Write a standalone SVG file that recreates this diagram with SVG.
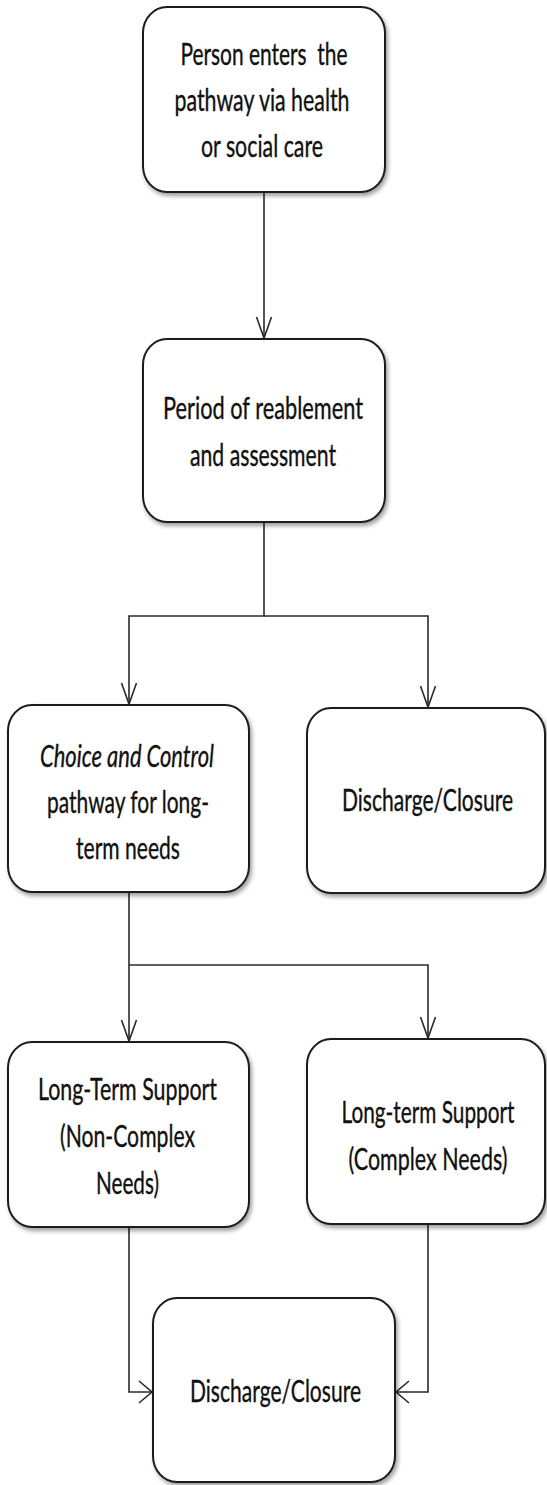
<svg xmlns="http://www.w3.org/2000/svg" width="547" height="1485" viewBox="0 0 547 1485">
<style>
.box{fill:#fff;stroke:#1a1a1a;stroke-width:2;filter:url(#sh)}
.t{font-family:Lato,"Open Sans","Liberation Sans",sans-serif;font-size:30px;fill:#111;stroke:#111;stroke-width:0.35;text-anchor:middle}
.it{font-style:italic}
.c{fill:none;stroke:#2a2a2a;stroke-width:1.6}
</style>
<defs>
<filter id="sh" x="-10%" y="-10%" width="125%" height="125%">
<feDropShadow dx="2" dy="3" stdDeviation="2.2" flood-color="#000" flood-opacity="0.38"/>
</filter>
<marker id="arrV" markerUnits="userSpaceOnUse" orient="auto" overflow="visible" markerWidth="1" markerHeight="1" refX="0" refY="0">
<path d="M-21,-7.5 L0,0 L-21,7.5" fill="none" stroke="#2a2a2a" stroke-width="1.6"/>
</marker>
<marker id="arrH" markerUnits="userSpaceOnUse" orient="auto" overflow="visible" markerWidth="1" markerHeight="1" refX="0" refY="0">
<path d="M-13,-11 L0,0 L-13,11" fill="none" stroke="#2a2a2a" stroke-width="1.6"/>
</marker>
</defs>
<g id="connectors">
<path class="c" d="M264,192 V338" marker-end="url(#arrV)"/>
<path class="c" d="M264,522 V616 H129 V704" marker-end="url(#arrV)"/>
<path class="c" d="M264,616 H428 V707" marker-end="url(#arrV)"/>
<path class="c" d="M129,892 V1041" marker-end="url(#arrV)"/>
<path class="c" d="M129,965 H428 V1038" marker-end="url(#arrV)"/>
<path class="c" d="M129,1227 V1392 H152" marker-end="url(#arrH)"/>
<path class="c" d="M428,1224 V1392 H396" marker-end="url(#arrH)"/>
</g>
<g id="n1">
<rect class="box" x="143" y="7" width="242" height="185" rx="24" ry="26"/>
<text class="t" transform="translate(264,65) scale(0.74,1)" textLength="225.7" lengthAdjust="spacingAndGlyphs" xml:space="preserve">Person enters  the</text>
<text class="t" transform="translate(262,111) scale(0.74,1)" textLength="236.5" lengthAdjust="spacingAndGlyphs">pathway via health</text>
<text class="t" transform="translate(262,157) scale(0.74,1)" textLength="164.9" lengthAdjust="spacingAndGlyphs">or social care</text>
</g>
<g id="n2">
<rect class="box" x="143" y="339" width="242" height="183" rx="24" ry="26"/>
<text class="t" transform="translate(263,419) scale(0.74,1)" textLength="270.3" lengthAdjust="spacingAndGlyphs">Period of reablement</text>
<text class="t" transform="translate(263,466) scale(0.74,1)" textLength="197.3" lengthAdjust="spacingAndGlyphs">and assessment</text>
</g>
<g id="n3">
<rect class="box" x="8" y="705" width="241" height="187" rx="24" ry="26"/>
<text class="t it" transform="translate(127,767) scale(0.74,1)" textLength="235.1" lengthAdjust="spacingAndGlyphs">Choice and Control</text>
<text class="t" transform="translate(128,813) scale(0.74,1)" textLength="218.9" lengthAdjust="spacingAndGlyphs">pathway for long-</text>
<text class="t" transform="translate(128,859) scale(0.74,1)" textLength="140.5" lengthAdjust="spacingAndGlyphs">term needs</text>
</g>
<g id="n4">
<rect class="box" x="307" y="708" width="238" height="185" rx="24" ry="26"/>
<text class="t" transform="translate(427.5,811) scale(0.74,1)" textLength="231.1" lengthAdjust="spacingAndGlyphs">Discharge/Closure</text>
</g>
<g id="n5">
<rect class="box" x="8" y="1042" width="241" height="185" rx="24" ry="26"/>
<text class="t" transform="translate(127.5,1100) scale(0.74,1)" textLength="241.9" lengthAdjust="spacingAndGlyphs">Long-Term Support</text>
<text class="t" transform="translate(127.5,1147) scale(0.74,1)" textLength="182.4" lengthAdjust="spacingAndGlyphs">(Non-Complex</text>
<text class="t" transform="translate(127.5,1194) scale(0.74,1)" textLength="85.1" lengthAdjust="spacingAndGlyphs">Needs)</text>
</g>
<g id="n6">
<rect class="box" x="307" y="1039" width="238" height="185" rx="24" ry="26"/>
<text class="t" transform="translate(428,1123) scale(0.74,1)" textLength="233.8" lengthAdjust="spacingAndGlyphs">Long-term Support</text>
<text class="t" transform="translate(428,1170) scale(0.74,1)" textLength="214.9" lengthAdjust="spacingAndGlyphs">(Complex Needs)</text>
</g>
<g id="n7">
<rect class="box" x="153" y="1298" width="242" height="184" rx="24" ry="26"/>
<text class="t" transform="translate(275.5,1402) scale(0.74,1)" textLength="231.1" lengthAdjust="spacingAndGlyphs">Discharge/Closure</text>
</g>
</svg>
